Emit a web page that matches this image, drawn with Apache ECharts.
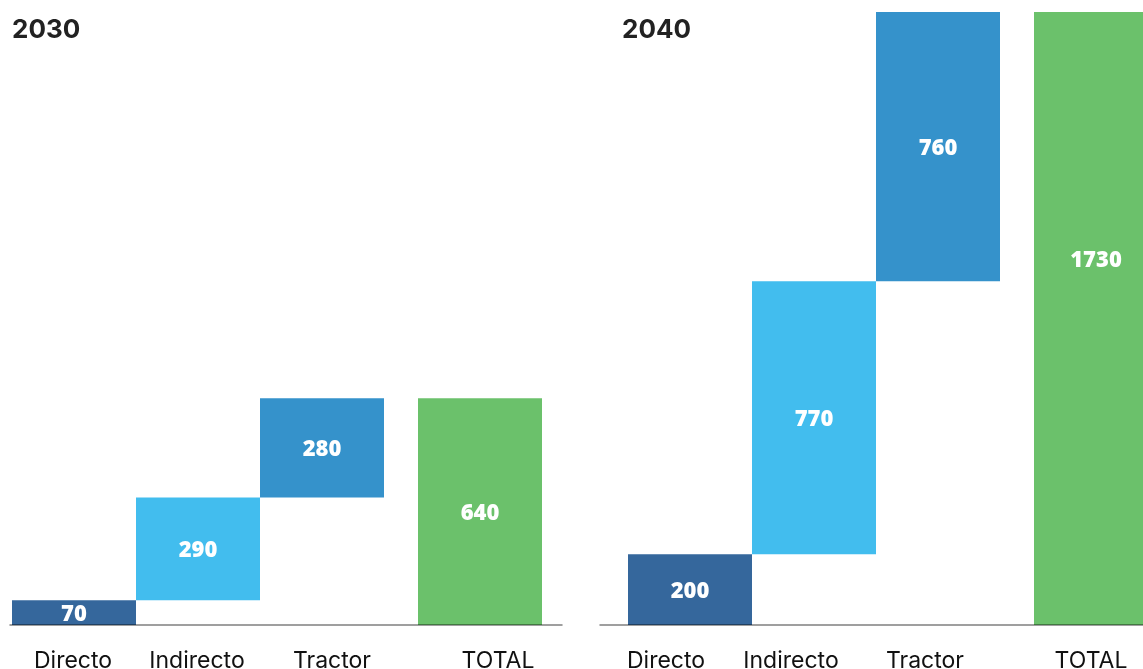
<!DOCTYPE html>
<html lang="es">
<head>
<meta charset="UTF-8" />
<title>Cascada 2030 / 2040</title>
<style>
  * { margin: 0; padding: 0; }
  html, body { background: #fff; overflow: hidden; }
  #chart { width: 1143px; height: 669px; }
</style>
<script src="https://cdn.jsdelivr.net/npm/echarts@6/dist/echarts.min.js"></script>
</head>
<body>
<div id="chart"></div>
<script>
  // datos
  const categories = ["Directo", "Indirecto", "Tractor", "TOTAL"];
  const values2030 = [70, 290, 280, 640];
  const values2040 = [200, 770, 760, 1730];
  const colors = ["#35679c", "#42bdee", "#3592cb", "#6bc16b"];

  // layout (px)
  const BAR_W = 124;
  const TOTAL_SHIFT = 34;
  const GRID_TOP = 12;
  const GRID_BOTTOM = 44;
  const panels = [
    { title: "2030", values: values2030, titleLeft: 7, barLeft: 12, lineLeft: 10, lineWidth: 552,
      labelShift: [-1, -1, 10, 52], totalLabelDy: 0 },
    { title: "2040", values: values2040, titleLeft: 617, barLeft: 628, lineLeft: 600, lineWidth: 543,
      labelShift: [-24, -23, -13, 29], totalLabelDy: -60 }
  ];

  const yMax = Math.max(...panels.map(p => Math.max(...p.values)));
  const last = categories.length - 1;

  // cascada: [indice, base, tope, valor]
  function waterfall(values) {
    let acc = 0;
    return values.map((v, i) => {
      if (i === last) return [i, 0, v, v];
      const row = [i, acc, acc + v, v];
      acc += v;
      return row;
    });
  }

  function richFor(shifts) {
    const rich = {};
    shifts.forEach((s, i) => {
      rich["s" + i] = {
        fontFamily: "Inter",
        fontSize: 23,
        color: "#111",
        padding: s > 0 ? [0, 0, 0, 2 * s] : [0, -2 * s, 0, 0]
      };
    });
    return rich;
  }

  const option = {
    backgroundColor: "#fff",
    animation: false,
    title: panels.map(p => ({
      text: p.title,
      left: p.titleLeft,
      top: 12,
      textStyle: { fontFamily: "Inter", fontSize: 26, fontWeight: "bold", color: "#222" }
    })),
    grid: [],
    xAxis: [],
    yAxis: [],
    series: []
  };

  panels.forEach((p, k) => {
    // grid con las barras
    option.grid.push({ left: p.barLeft, width: BAR_W * categories.length, top: GRID_TOP, bottom: GRID_BOTTOM,
      containLabel: false, outerBoundsMode: "none" });
    // grid solo para la linea base
    option.grid.push({ left: p.lineLeft, width: p.lineWidth, top: GRID_TOP, bottom: GRID_BOTTOM,
      containLabel: false, outerBoundsMode: "none" });

    option.xAxis.push({
      type: "category",
      gridIndex: 2 * k,
      data: categories,
      axisLine: { show: false },
      axisTick: { show: false },
      axisLabel: {
        interval: 0,
        margin: 25,
        formatter: (v, i) => "{s" + i + "|" + v + "}",
        rich: richFor(p.labelShift)
      }
    });
    option.xAxis.push({
      type: "value",
      gridIndex: 2 * k + 1,
      min: 0,
      max: 1,
      z: 10,
      axisLine: { show: true, onZero: false, lineStyle: { color: "rgba(0,0,0,0.5)", width: 1.5 } },
      axisTick: { show: false },
      axisLabel: { show: false },
      splitLine: { show: false }
    });
    option.yAxis.push({ type: "value", gridIndex: 2 * k, min: 0, max: yMax, show: false });
    option.yAxis.push({ type: "value", gridIndex: 2 * k + 1, min: 0, max: 1, show: false });

    option.series.push({
      type: "custom",
      name: p.title,
      xAxisIndex: 2 * k,
      yAxisIndex: 2 * k,
      encode: { x: 0, y: [1, 2] },
      data: waterfall(p.values),
      renderItem: function (params, api) {
        const idx = api.value(0);
        const lo = api.coord([idx, api.value(1)]);
        const hi = api.coord([idx, api.value(2)]);
        const w = api.size([1, 0])[0];
        const shift = idx === last ? TOTAL_SHIFT : 0;
        const dy = (idx === last ? p.totalLabelDy : 0) + 2;
        return {
          type: "rect",
          shape: { x: lo[0] - w / 2 + shift, y: hi[1], width: w, height: lo[1] - hi[1] },
          style: { fill: colors[idx] },
          textContent: {
            style: {
              text: String(api.value(3)),
              fill: "#fff",
              fontFamily: "Open Sans",
              fontSize: 22,
              fontWeight: 800
            }
          },
          textConfig: { position: "inside", offset: [0, dy] }
        };
      }
    });
  });

  const chart = echarts.init(document.getElementById("chart"));
  chart.setOption(option);
</script>
</body>
</html>
